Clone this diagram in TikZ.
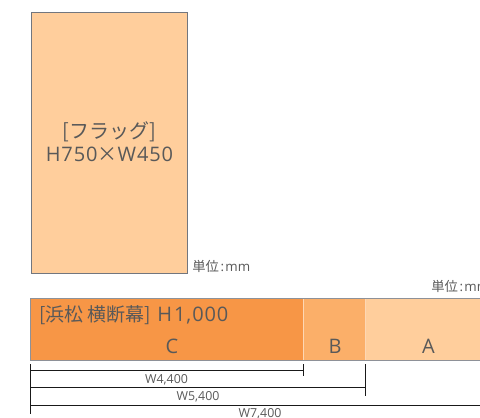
\documentclass[tikz,border=0pt]{standalone}
\usepackage{fontspec}
\setmainfont{Open Sans}
\newfontfamily\jp{Noto Sans CJK JP}
\newfontfamily\wide[LetterSpace=4.5]{Open Sans}
\definecolor{txt}{HTML}{595959}
\definecolor{edge}{HTML}{72767E}
\definecolor{flagfill}{HTML}{FFCE9C}
\definecolor{midfill}{HTML}{FBAF69}
\definecolor{darkfill}{HTML}{F79646}
\tikzset{
  big/.style={text=txt,font=\fontsize{15pt}{18.5pt}\selectfont,inner sep=0pt},
  unit/.style={text=txt,font=\fontsize{10pt}{11pt}\selectfont,inner sep=0pt},
  dimtext/.style={text=txt,font=\fontsize{9.3pt}{10pt}\selectfont,inner sep=0pt},
  dimline/.style={draw=black!90,line width=0.6pt}
}
\begin{document}
\begin{tikzpicture}[x=0.75pt,y=-0.75pt]
\useasboundingbox (0,0) rectangle (480,418);
\clip (0,0) rectangle (480,418);
% flag
\node (flag) [anchor=north west,inner sep=0pt,draw=edge,line width=0.9pt,fill=flagfill,minimum width=117pt,minimum height=195.75pt] at (31,11.7) {};
\node (flagtext) [big,align=center] at (109.5,141.5) {{\jp [フラッグ]}\\[-1pt]{\wide H750}{\jp ×}{\wide W450}};
\node (unit1) [unit,anchor=west] at (192,266) {{\jp 単位}\hspace{0.12em}:\hspace{0.1em}mm};
\node (unit2) [unit,anchor=west] at (431,286) {{\jp 単位}\hspace{0.12em}:\hspace{0.1em}mm};
% bar
\fill[flagfill] (365,298.5) rectangle (481,361);
\fill[midfill] (303,298.5) rectangle (365,361);
\fill[darkfill] (30.5,298.5) rectangle (303,361);
\draw[white!50!midfill,line width=0.4pt] (303,299) -- (303,360) (365.3,299) -- (365.3,360);
\draw[edge!80!white,line width=0.9pt] (482,298.5) -- (30.5,298.5) -- (30.5,360.7) -- (482,360.7);
\node (head) [big,anchor=west] at (39,315) {{\jp\fontsize{14.2pt}{17pt}\selectfont [浜松 横断幕]}\hspace{0.32em}{\wide H\hspace{0.1em}1,000}};
\node (c) [big] at (172,346.5) {C};
\node (b) [big] at (335,346.5) {B};
\node (a) [big] at (428.5,346.5) {A};
% dimensions
\coordinate (o1) at (30.5,370); \coordinate (e1) at (303.5,370);
\coordinate (o2) at (30.5,387.5); \coordinate (e2) at (365.5,387.5);
\coordinate (o3) at (30.5,405.5); \coordinate (e3) at (481,405.5);
\coordinate (vt) at (30.5,364); \coordinate (vb) at (30.5,414);
\coordinate (t1a) at (303.5,364); \coordinate (t1b) at (303.5,376);
\coordinate (t2a) at (365.5,364); \coordinate (t2b) at (365.5,396);
\draw[dimline] (o1) -- (e1);
\draw[dimline] (o2) -- (e2);
\draw[dimline] (o3) -- (e3);
\draw[dimline] (vt) -- (vb);
\draw[dimline] (t1a) -- (t1b);
\draw[dimline] (t2a) -- (t2b);
\node (d1) [dimtext] at (166.5,379.5) {W4,400};
\node (d2) [dimtext] at (198,396.5) {W5,400};
\node (d3) [dimtext] at (260,414) {W7,400};
\end{tikzpicture}
\end{document}
